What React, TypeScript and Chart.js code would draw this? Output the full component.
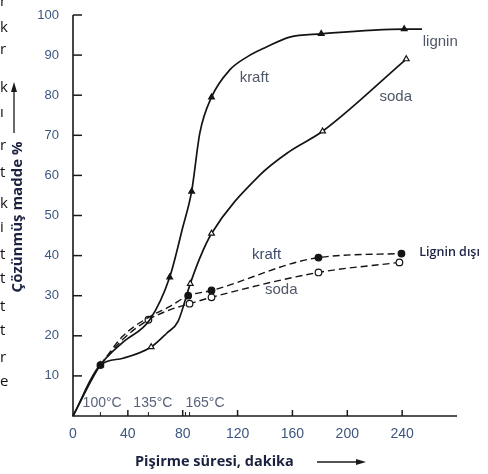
import React, { useEffect, useRef } from "react";
import { Chart, registerables } from "chart.js";

Chart.register(...registerables);

// ---- data ----
const xTickValues = [0, 40, 80, 120, 160, 200, 240];
const yTickValues = [10, 20, 30, 40, 50, 60, 70, 80, 90, 100];
const tempMarkValues = [20, 55, 82, 85];

// total dissolved (lignin included), kraft — solid, filled triangles
const kraftTotalX = [0, 20, 36.5, 56, 70.5, 80, 86.5, 92.5, 101, 114.3, 126.7, 141, 158, 181, 241.5, 254.5];
const kraftTotalY = [0, 12.7, 18.4, 24, 34.6, 47, 56, 70.6, 79.5, 86.3, 89.5, 92, 94.5, 95.3, 96.5, 96.5];
const kraftTotalMeasured = [false, true, false, false, true, false, true, false, true, false, false, false, false, true, true, false];

// total dissolved, soda — solid, open triangles
const sodaTotalX = [0, 20, 36.5, 57, 68.5, 76.6, 85.5, 92.6, 101, 136, 158, 182, 243];
const sodaTotalY = [0, 12.7, 14.4, 17.2, 20.7, 23.6, 33, 39.5, 45.5, 60, 66, 71, 89];
const sodaTotalMeasured = [false, true, false, true, false, false, true, false, true, false, false, true, true];

// non-lignin dissolved, kraft — dashed, filled circles
const kraftNonLigninX = [20, 36, 55, 70, 84, 101, 179, 239.5];
const kraftNonLigninY = [12.7, 19.8, 24.6, 27.2, 30, 31.3, 39.5, 40.5];
const kraftNonLigninMeasured = [true, false, false, false, true, true, true, true];

// non-lignin dissolved, soda — dashed, open circles
const sodaNonLigninX = [20, 36, 55, 70, 85, 101, 179, 238];
const sodaNonLigninY = [12.7, 19, 24, 26.4, 28, 29.6, 35.8, 38.3];
const sodaNonLigninMeasured = [false, false, true, false, true, true, true, true];

const tempLabels = ["100°C", "135°C", "165°C"];
const tempLabelAt = [7, 44, 82];

const sideLetters = ["r", "k", "r", "k", "ı", "r", "t", "k", "i", "t", "t", "t", "t", "r", "e"];
const sideLetterTops = [-10, 16, 38, 76, 101, 134, 161, 192, 216, 243, 267, 295, 319, 346, 370];

const pts = (xs: number[], ys: number[]) => xs.map((x, i) => ({ x, y: ys[i] }));

const annotations = [
  { text: "kraft", x: 121.5, y: 84.3, font: "15px 'Liberation Sans'", color: "#4f5868" },
  { text: "lignin", x: 255, y: 93.3, font: "15px 'Liberation Sans'", color: "#4f5868" },
  { text: "soda", x: 223.5, y: 79.6, font: "15px 'Liberation Sans'", color: "#4f5868" },
  { text: "kraft", x: 130.5, y: 40.1, font: "15px 'Liberation Sans'", color: "#3e4c6a" },
  { text: "soda", x: 140, y: 31.4, font: "15px 'Liberation Sans'", color: "#4f5868" },
  { text: "Lignin dışı", x: 252.5, y: 40.9, font: "600 12.5px 'Open Sans'", color: "#1c2244" },
];

const framePlugin = {
  id: "frame",
  beforeDatasetsDraw(chart: any) {
    const { ctx, scales } = chart;
    const xs = scales.x;
    const ys = scales.y;
    const x0 = xs.getPixelForValue(0);
    const y0 = ys.getPixelForValue(0);
    ctx.save();
    ctx.strokeStyle = "#1a1a1a";
    ctx.lineWidth = 1.6;
    ctx.beginPath();
    ctx.moveTo(x0, ys.getPixelForValue(100));
    ctx.lineTo(x0, y0);
    ctx.lineTo(xs.getPixelForValue(280), y0);
    ctx.stroke();
    ctx.lineWidth = 1.5;
    yTickValues.forEach((v) => {
      const py = ys.getPixelForValue(v);
      ctx.beginPath();
      ctx.moveTo(x0, py);
      ctx.lineTo(x0 + 9, py);
      ctx.stroke();
    });
    xTickValues.slice(1).forEach((v) => {
      const px = xs.getPixelForValue(v);
      ctx.beginPath();
      ctx.moveTo(px, y0);
      ctx.lineTo(px, y0 - 6);
      ctx.stroke();
    });
    ctx.lineWidth = 1;
    tempMarkValues.forEach((v) => {
      const px = xs.getPixelForValue(v);
      ctx.beginPath();
      ctx.moveTo(px, y0);
      ctx.lineTo(px, y0 - 4);
      ctx.stroke();
    });
    // tick labels
    ctx.fillStyle = "#3c5680";
    ctx.font = "13px 'Liberation Sans'";
    ctx.textAlign = "right";
    ctx.textBaseline = "middle";
    yTickValues.forEach((v) => {
      ctx.fillText(String(v), x0 - 14, ys.getPixelForValue(v));
    });
    ctx.font = "14px 'Liberation Sans'";
    ctx.textAlign = "center";
    ctx.textBaseline = "top";
    xTickValues.forEach((v) => {
      ctx.fillText(String(v), xs.getPixelForValue(v), y0 + 11);
    });
    // temperature labels
    ctx.fillStyle = "#59627a";
    ctx.font = "14px 'Liberation Sans'";
    ctx.textAlign = "left";
    ctx.textBaseline = "middle";
    tempLabels.forEach((t, i) => {
      ctx.fillText(t, xs.getPixelForValue(tempLabelAt[i]), y0 - 13);
    });
    // axis titles
    ctx.fillStyle = "#1b2240";
    ctx.font = "bold 14.5px 'Open Sans'";
    ctx.textAlign = "left";
    ctx.fillText("Pişirme süresi, dakika", 135, 462);
    ctx.save();
    ctx.translate(18, 217);
    ctx.rotate(-Math.PI / 2);
    ctx.textAlign = "center";
    ctx.font = "bold 15px 'Open Sans'";
    ctx.fillText("Çözünmüş madde %", 0, 0);
    ctx.restore();
    // arrows
    ctx.strokeStyle = "#1a1a1a";
    ctx.fillStyle = "#1a1a1a";
    ctx.lineWidth = 1.3;
    ctx.beginPath();
    ctx.moveTo(317, 462);
    ctx.lineTo(358, 462);
    ctx.stroke();
    ctx.beginPath();
    ctx.moveTo(366, 462);
    ctx.lineTo(356, 459);
    ctx.lineTo(356, 465);
    ctx.closePath();
    ctx.fill();
    ctx.beginPath();
    ctx.moveTo(14, 133);
    ctx.lineTo(14, 90);
    ctx.stroke();
    ctx.beginPath();
    ctx.moveTo(14, 82);
    ctx.lineTo(11, 92);
    ctx.lineTo(17, 92);
    ctx.closePath();
    ctx.fill();
    ctx.restore();
  },
  afterDraw(chart: any) {
    const { ctx, scales } = chart;
    ctx.save();
    ctx.textAlign = "left";
    ctx.textBaseline = "middle";
    annotations.forEach((a) => {
      ctx.font = a.font;
      ctx.fillStyle = a.color;
      ctx.fillText(a.text, scales.x.getPixelForValue(a.x), scales.y.getPixelForValue(a.y));
    });
    ctx.restore();
  },
};

function makeSeries(
  xs: number[],
  ys: number[],
  measured: boolean[],
  style: string,
  filled: boolean,
  dashed: boolean
) {
  return {
    data: pts(xs, ys),
    borderColor: "#141414",
    borderWidth: dashed ? 1.4 : 1.7,
    borderDash: dashed ? [7, 4] : [],
    cubicInterpolationMode: "monotone" as const,
    pointStyle: style,
    pointRadius: measured.map((m) => (m ? 3.3 : 0)),
    pointBorderWidth: 1.2,
    pointBorderColor: "#141414",
    pointBackgroundColor: filled ? "#141414" : "#ffffff",
    fill: false,
    clip: false as any,
  };
}

export default function App() {
  const ref = useRef<HTMLCanvasElement | null>(null);
  useEffect(() => {
    document.body.style.margin = "0";
    if (!ref.current) return;
    const chart = new Chart(ref.current, {
      type: "line",
      data: {
        datasets: [
          makeSeries(kraftTotalX, kraftTotalY, kraftTotalMeasured, "triangle", true, false),
          makeSeries(sodaTotalX, sodaTotalY, sodaTotalMeasured, "triangle", false, false),
          makeSeries(kraftNonLigninX, kraftNonLigninY, kraftNonLigninMeasured, "circle", true, true),
          makeSeries(sodaNonLigninX, sodaNonLigninY, sodaNonLigninMeasured, "circle", false, true),
        ] as any,
      },
      options: {
        animation: false,
        responsive: true,
        maintainAspectRatio: false,
        layout: { padding: { left: 73, right: 31, top: 15, bottom: 58 } },
        plugins: { legend: { display: false }, tooltip: { enabled: false } },
        scales: {
          x: { type: "linear", min: 0, max: 280, display: false },
          y: { type: "linear", min: 0, max: 100, display: false },
        },
      },
      plugins: [framePlugin],
    });
    return () => chart.destroy();
  }, []);
  return (
    <div style={{ position: "fixed", left: 0, top: 0, width: 488, height: 474, background: "#fff", overflow: "hidden" }}>
      <canvas ref={ref} style={{ display: "block" }} />
      {sideLetters.map((l, i) => (
        <div
          key={i}
          style={{
            position: "absolute",
            left: 0,
            top: sideLetterTops[i],
            font: "15px 'Open Sans'",
            color: "#111",
            lineHeight: "20px",
          }}
        >
          {l}
        </div>
      ))}
    </div>
  );
}
